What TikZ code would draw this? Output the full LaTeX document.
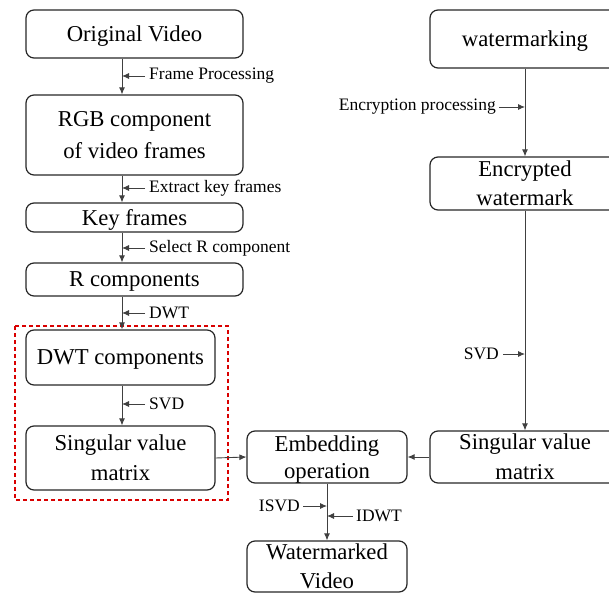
\documentclass[tikz,border=0pt]{standalone}
\usepackage{fontspec}
\setmainfont{Liberation Serif}
\usetikzlibrary{arrows.meta,calc}
\begin{document}
\begin{tikzpicture}[x=1pt,y=-1pt,
  box/.style={draw=black!85,line width=1.2pt,rounded corners=8pt,align=center,
    font=\fontsize{22.7}{28}\selectfont,inner sep=0pt,text depth=0pt},
  conn/.style={draw=black!75,line width=0.9pt,-{Latex[length=7pt,width=6pt]}},
  lab/.style={font=\fontsize{17.5}{20}\selectfont,inner sep=0pt},
  frame/.style={draw=red!85!black,line width=1.2pt,dash pattern=on 4pt off 3pt}]
\useasboundingbox (0,0) rectangle (609,593);
\clip (0,0) rectangle (609,593);
% left column
\node[box,minimum width=217,minimum height=48] (ov) at (134.5,34) {Original Video};
\node[box,minimum width=217,minimum height=80,font=\fontsize{22.7}{32}\selectfont] (rgb) at (134.5,135) {RGB component\\of video frames};
\node[box,minimum width=217,minimum height=29] (kf) at (134.5,217.5) {Key frames};
\node[box,minimum width=217,minimum height=33] (rc) at (134.5,279.5) {R components};
\node[box,minimum width=189,minimum height=55] (dwt) at (120.5,357.5) {DWT components};
\node[box,minimum width=189,minimum height=64,font=\fontsize{22.7}{30}\selectfont] (svl) at (120.5,458) {Singular value\\matrix};
\draw[frame] (15,326) rectangle (228,500);
% middle
\node[box,minimum width=160,minimum height=52,font=\fontsize{22.7}{27}\selectfont] (emb) at (327,457) {Embedding\\operation};
\node[box,minimum width=160,minimum height=51,font=\fontsize{22.7}{29}\selectfont] (wv) at (327,566.5) {Watermarked\\Video};
% right column
\node[box,minimum width=190,minimum height=58] (wm) at (525,39) {watermarking};
\node[box,minimum width=190,minimum height=53,font=\fontsize{22.7}{29}\selectfont] (enc) at (525,183.5) {Encrypted\\watermark};
\node[box,minimum width=190,minimum height=52,font=\fontsize{22.7}{30}\selectfont] (svr) at (525,457) {Singular value\\matrix};
% left connectors
\coordinate (lx) at (122,0);
\draw[conn] (lx |- ov.south) -- (lx |- rgb.north);
\draw[conn] (lx |- rgb.south) -- (lx |- kf.north);
\draw[conn] (lx |- kf.south) -- (lx |- rc.north);
\draw[conn] (lx |- rc.south) -- (lx |- dwt.north);
\draw[conn] (lx |- dwt.south) -- (lx |- svl.north);
\draw[conn] (svl.east) -- (emb.west);
\draw[conn] (svr.west) -- (emb.east);
\draw[conn] (wm.south) -- (enc.north);
\draw[conn] (enc.south) -- (svr.north);
\draw[conn] (emb.south) -- (wv.north);
% label arrows (left)
\coordinate (l1) at (145,76);
\draw[conn] (l1) -- (lx |- l1);
\node[lab,anchor=west] (t1) at (149,76) {Frame Processing};
\coordinate (l2) at (145,188);
\draw[conn] (l2) -- (lx |- l2);
\node[lab,anchor=west] (t2) at (149,188) {Extract key frames};
\coordinate (l3) at (145,248);
\draw[conn] (l3) -- (lx |- l3);
\node[lab,anchor=west] (t3) at (149,248) {Select R component};
\coordinate (l4) at (145,313);
\draw[conn] (l4) -- (lx |- l4);
\node[lab,anchor=west] (t4) at (149,313) {DWT};
\coordinate (l5) at (145,404);
\draw[conn] (l5) -- (lx |- l5);
\node[lab,anchor=west] (t5) at (149,404) {SVD};
% label arrows (right)
\coordinate (rx) at (525,0);
\coordinate (r1) at (499,107);
\draw[conn] (r1) -- (rx |- r1);
\node[lab,anchor=east] (t6) at (496,107) {Encryption processing};
\coordinate (r2) at (503,354);
\draw[conn] (r2) -- (rx |- r2);
\node[lab,anchor=east] (t7) at (499,354) {SVD};
% bottom labels
\coordinate (mx) at (327,0);
\coordinate (b1) at (303,506);
\draw[conn] (b1) -- (mx |- b1);
\node[lab,anchor=east] (t8) at (300,506) {ISVD};
\coordinate (b2) at (353,516);
\draw[conn] (b2) -- (mx |- b2);
\node[lab,anchor=west] (t9) at (356,516) {IDWT};
\end{tikzpicture}
\end{document}
